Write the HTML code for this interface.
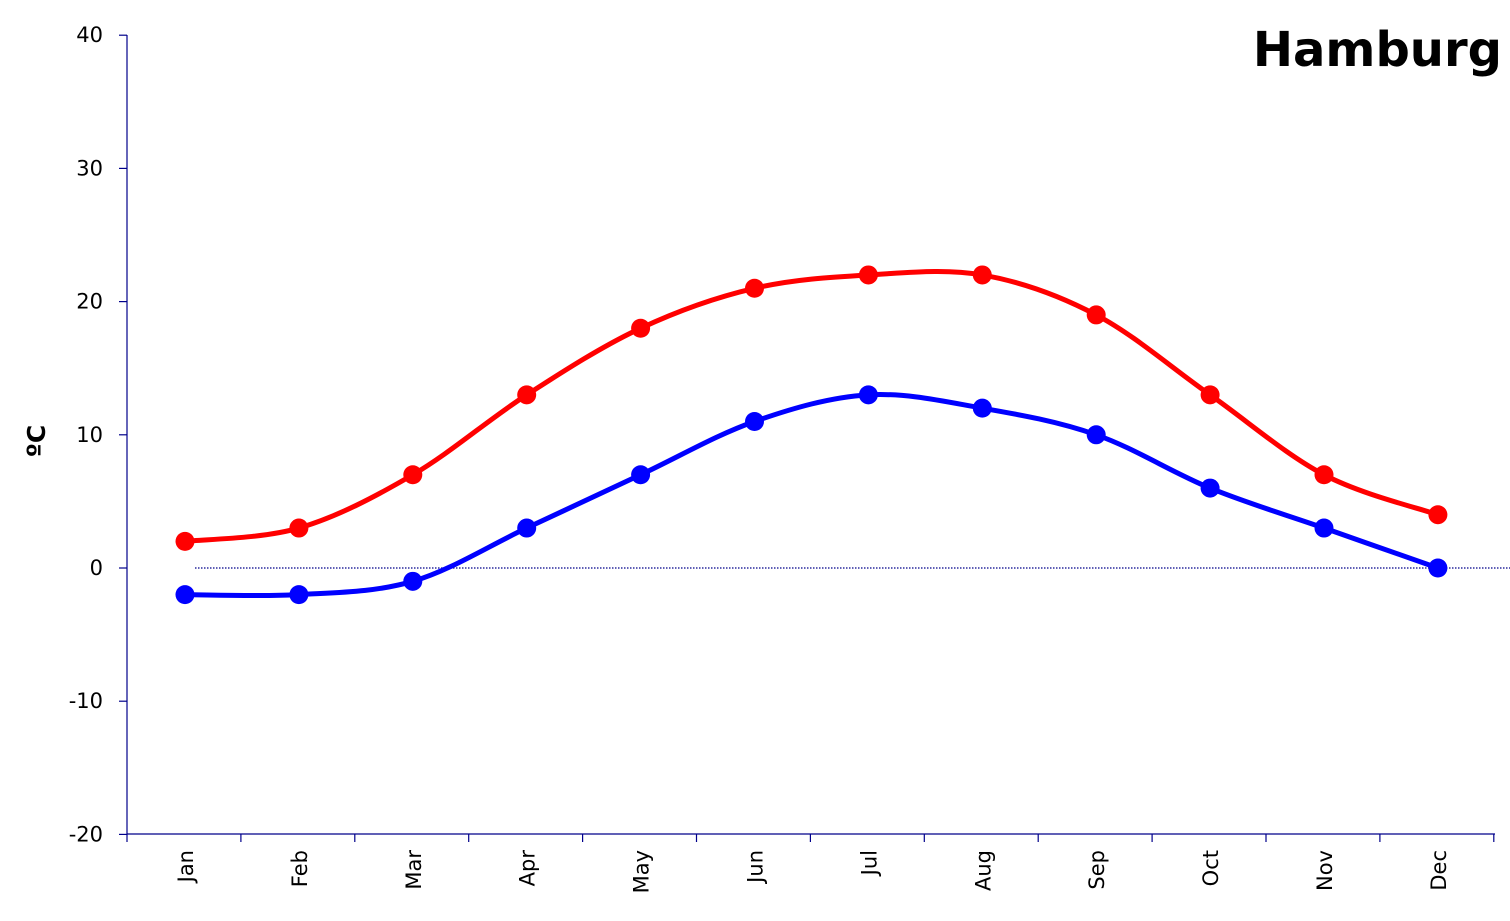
<!DOCTYPE html>
<html><head><meta charset="utf-8"><style>
html,body{margin:0;padding:0;background:#fff;}
svg{display:block;font-family:"DejaVu Sans",Verdana,sans-serif;}
</style></head><body>
<svg id="c" width="1510" height="921" xmlns="http://www.w3.org/2000/svg">
<line x1="127" y1="35" x2="127" y2="834" stroke="#00008b" stroke-width="1.2"/>
<line x1="127" y1="834" x2="1495" y2="834" stroke="#00008b" stroke-width="1.2"/>
<line x1="195" y1="568" x2="1510" y2="568" stroke="#00008b" stroke-width="1.2" stroke-dasharray="1.5,1.5"/>
<text x="1502" y="66" text-anchor="end" font-size="48" font-weight="bold">Hamburg</text>
<text transform="translate(45,441) rotate(-90)" text-anchor="middle" font-size="25" font-weight="bold">ºC</text>
<g id="g"></g>
</svg>
<script>
var ns="http://www.w3.org/2000/svg",g=document.getElementById("g");
function el(t,a,txt){var e=document.createElementNS(ns,t);for(var k in a)e.setAttribute(k,a[k]);if(txt!=null)e.textContent=txt;g.appendChild(e);return e;}
function Y(v){return 568-v*13.32;}
function X(i){return 185+i*113.9;}
for(var v=-20;v<=40;v+=10){var y=Y(v);el("line",{x1:119,y1:y,x2:127,y2:y,stroke:"#00008b","stroke-width":1.2});
el("text",{x:103,y:y+7,"text-anchor":"end","font-size":21},String(v));}
var m=["Jan","Feb","Mar","Apr","May","Jun","Jul","Aug","Sep","Oct","Nov","Dec"];
for(var i=0;i<=12;i++){var x=127+i*113.9;el("line",{x1:x,y1:834,x2:x,y2:842,stroke:"#00008b","stroke-width":1.2});}
m.forEach(function(s,i){el("text",{transform:"translate("+(X(i)+8)+",850) rotate(-90)","text-anchor":"end","font-size":21},s);});
function path(d){var p=d.map(function(v,i){return[X(i),Y(v)]});var s="M"+p[0][0]+","+p[0][1];
for(var i=0;i<p.length-1;i++){var p0=p[i-1]||p[i],p1=p[i],p2=p[i+1],p3=p[i+2]||p2,t=6;
s+=" C"+(p1[0]+(p2[0]-p0[0])/t)+","+(p1[1]+(p2[1]-p0[1])/t)+" "+(p2[0]-(p3[0]-p1[0])/t)+","+(p2[1]-(p3[1]-p1[1])/t)+" "+p2[0]+","+p2[1];}
return [s,p];}
[[[2,3,7,13,18,21,22,22,19,13,7,4],"#ff0000"],[[-2,-2,-1,3,7,11,13,12,10,6,3,0],"#0000ff"]].forEach(function(a){
var r=path(a[0]);el("path",{d:r[0],fill:"none",stroke:a[1],"stroke-width":5});
r[1].forEach(function(p){el("circle",{cx:p[0],cy:p[1],r:9.5,fill:a[1]});});});
</script>
</body></html>
